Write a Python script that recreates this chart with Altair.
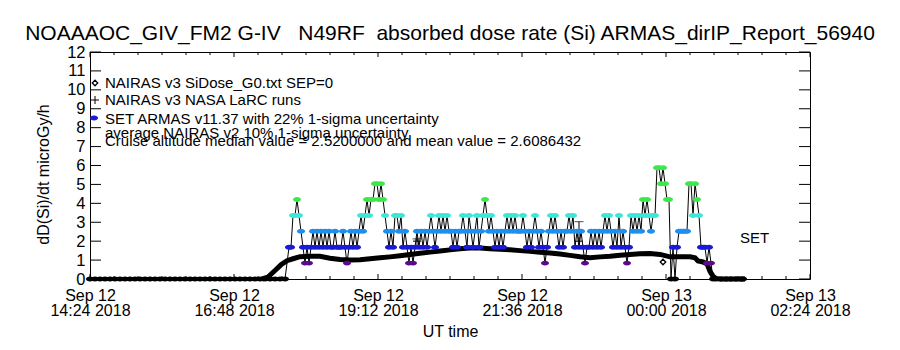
import altair as alt
import pandas as pd

TITLE = "NOAAAOC_GIV_FM2 G-IV\u00a0\u00a0\u00a0N49RF\u00a0\u00a0absorbed dose rate (Si) ARMAS_dirIP_Report_56940"
Y_TITLE = "dD(Si)/dt microGy/h"
X_TITLE = "UT time"

# x axis: minutes after Sep 12 14:24 UT
x_tick_values = [0, 144, 288, 432, 576, 720]
x_tick_dates = ["Sep 12", "Sep 12", "Sep 12", "Sep 12", "Sep 13", "Sep 13"]
x_tick_times = ["14:24 2018", "16:48 2018", "19:12 2018", "21:36 2018", "00:00 2018", "02:24 2018"]
x_minor_values = [24, 48, 72, 96, 120, 168, 192, 216, 240, 264, 312, 336, 360, 384, 408,
                  456, 480, 504, 528, 552, 600, 624, 648, 672, 696]
y_tick_values = [0, 1, 2, 3, 4, 5, 6, 7, 8, 9, 10, 11, 12]

legend_lines = [
    "NAIRAS v3 SiDose_G0.txt SEP=0",
    "NAIRAS v3 NASA LaRC runs",
    "SET ARMAS v11.37 with 22% 1-sigma uncertainty",
    "average NAIRAS v2 10% 1-sigma uncertainty",
    "Cruise altitude median value = 2.5200000 and mean value = 2.6086432",
]
set_label = "SET"

# ARMAS on the ground (zero dose) before and after the flight
ground_before_min = [0, 5, 10, 15, 20, 25, 30, 35, 40, 45, 50, 55, 60, 65, 70, 75, 80, 85, 90, 95,
                     100, 105, 110, 115, 120, 125, 130, 135, 140, 145, 150, 155, 160, 165, 170,
                     175, 180, 185, 190, 195]
ground_after_min = [626, 631, 636, 641, 646, 651, 653]

# ARMAS in flight
armas_min = [
    199, 201, 203, 205, 207, 209, 211, 213, 215, 217, 219, 221, 223, 225, 227, 229, 231, 233, 235, 237,
    239, 241, 243, 245, 247, 249, 251, 253, 255, 257, 259, 261, 263, 265, 267, 269, 271, 273, 275, 277,
    279, 281, 283, 285, 287, 289, 291, 293, 295, 297, 299, 301, 303, 305, 307, 309, 311, 313, 315, 317,
    319, 321, 323, 325, 327, 329, 331, 333, 335, 337, 339, 341, 343, 345, 347, 349, 351, 353, 355, 357,
    359, 361, 363, 365, 367, 369, 371, 373, 375, 377, 379, 381, 383, 385, 387, 389, 391, 393, 395, 397,
    399, 401, 403, 405, 407, 409, 411, 413, 415, 417, 419, 421, 423, 425, 427, 429, 431, 433, 435, 437,
    439, 441, 443, 445, 447, 449, 451, 453, 455, 457, 459, 461, 463, 465, 467, 469, 471, 473, 475, 477,
    479, 481, 483, 485, 487, 489, 491, 493, 495, 497, 499, 501, 503, 505, 507, 509, 511, 513, 515, 517,
    519, 521, 523, 525, 527, 529, 531, 533, 535, 537, 539, 541, 543, 545, 547, 549, 551, 553, 555, 557,
    559, 561, 563, 565, 567, 569, 571, 573, 575, 577, 579, 581, 583, 585, 587, 589, 591, 593, 595, 597,
    599, 601, 603, 605, 607, 609, 611, 613, 615, 617, 619, 621, 623,
]
armas_dose = [
    1.68, 1.68, 3.36, 3.36, 4.2, 3.36, 2.52, 1.68, 0.84, 1.68, 0.84, 1.68, 2.52, 1.68, 2.52, 1.68, 2.52, 1.68, 2.52, 1.68,
    2.52, 1.68, 1.68, 2.52, 1.68, 1.68, 1.68, 2.52, 1.68, 0.84, 1.68, 2.52, 1.68, 2.52, 1.68, 2.52, 3.36, 2.52, 3.36, 4.2,
    3.36, 4.2, 4.2, 5.04, 5.04, 4.2, 5.04, 4.2, 3.36, 2.52, 1.68, 2.52, 1.68, 3.36, 3.36, 2.52, 3.36, 1.68, 2.52, 1.68,
    0.84, 1.68, 0.84, 1.68, 2.52, 1.68, 2.52, 1.68, 2.52, 1.68, 2.52, 3.36, 2.52, 1.68, 2.52, 3.36, 2.52, 3.36, 2.52, 3.36,
    2.52, 2.52, 1.68, 2.52, 1.68, 2.52, 2.52, 3.36, 2.52, 1.68, 3.36, 2.52, 1.68, 2.52, 3.36, 1.68, 2.52, 3.36, 4.2, 3.36,
    2.52, 3.36, 2.52, 1.68, 2.52, 1.68, 2.52, 1.68, 2.52, 3.36, 2.52, 3.36, 2.52, 3.36, 2.52, 2.52, 2.52, 3.36, 2.52, 1.68,
    2.52, 1.68, 2.52, 3.36, 2.52, 1.68, 2.52, 1.68, 0.84, 1.68, 2.52, 3.36, 2.52, 3.36, 2.52, 1.68, 2.52, 1.68, 2.52, 2.52,
    3.36, 2.52, 3.36, 1.68, 2.52, 1.68, 2.52, 1.68, 0.84, 1.68, 1.68, 2.52, 1.68, 2.52, 1.68, 2.52, 1.68, 2.52, 3.36, 2.52,
    3.36, 2.52, 1.68, 2.52, 1.68, 3.36, 1.68, 2.52, 1.68, 0.84, 1.68, 3.36, 2.52, 3.36, 2.52, 3.36, 2.52, 4.2, 3.36, 4.2,
    3.36, 2.52, 3.36, 3.36, 5.88, 5.88, 5.04, 5.88, 5.04, 4.2, 4.2, 0.0, 1.68, 0.0, 1.68, 2.52, 2.52, 2.52, 2.52, 2.52,
    5.04, 5.04, 3.36, 5.04, 4.2, 3.36, 1.68, 1.68, 1.68, 0.84, 1.68, 0.84, 0.0,
]

# NAIRAS v3 SiDose_G0 model curve
nairas_min = [172, 178, 185, 191, 197, 203, 210, 220, 230, 240, 250, 260, 270, 280, 290, 300, 310,
              320, 330, 340, 350, 360, 370, 380, 390, 400, 410, 420, 430, 440, 450, 460, 470, 480,
              490, 500, 510, 520, 530, 540, 550, 560, 570, 580, 590, 600, 605, 608, 613, 617, 620,
              623, 626, 630, 655]
nairas_dose = [0.0, 0.1, 0.45, 0.75, 0.97, 1.07, 1.18, 1.2, 1.2, 1.1, 1.03, 1.0, 1.02, 1.07, 1.12,
               1.17, 1.23, 1.3, 1.36, 1.42, 1.48, 1.54, 1.6, 1.64, 1.64, 1.6, 1.57, 1.54, 1.5, 1.46,
               1.42, 1.37, 1.32, 1.25, 1.18, 1.13, 1.17, 1.2, 1.26, 1.3, 1.33, 1.35, 1.3, 1.17, 1.17,
               1.17, 1.12, 0.95, 0.9, 0.8, 0.4, 0.15, 0.03, 0.0, 0.0]
nairas_extra_min = [573]
nairas_extra_dose = [0.9]

# NAIRAS v3 NASA LaRC runs
larc_min = [327, 489]
larc_dose = [2.0, 2.0]
larc_high = [2.12, 3.03]

level_edges = [0.42, 1.26, 2.1, 2.94, 3.78]
level_colors = ["#000000", "#5a0a8c", "#1a1ad8", "#1e8ff0", "#3ee6d8", "#3ce84c"]

ELLIPSE = "M-1,0A1,0.62,0,1,0,1,0A1,0.62,0,1,0,-1,0Z"
PLUS = "M-1,0L1,0M0,-1L0,1"

W, H = 720, 227
FONT = "Liberation Sans"

xscale = alt.Scale(domain=[0, 720], nice=False, zero=False)
yscale = alt.Scale(domain=[0, 12], nice=False, zero=False)

label_expr = ("[" + ",".join(f"['{d}','{t}']" for d, t in zip(x_tick_dates, x_tick_times))
              + "][indexof([" + ",".join(str(v) for v in x_tick_values) + "], datum.value)]")

armas = pd.concat([
    pd.DataFrame({"m": ground_before_min, "v": [0.0] * len(ground_before_min)}),
    pd.DataFrame({"m": armas_min, "v": armas_dose}),
    pd.DataFrame({"m": ground_after_min, "v": [0.0] * len(ground_after_min)}),
], ignore_index=True)
nairas = pd.DataFrame({"m": nairas_min, "v": nairas_dose})
nairas_extra = pd.DataFrame({"m": nairas_extra_min, "v": nairas_extra_dose})
larc = pd.DataFrame({"m": larc_min, "v": larc_dose, "hi": larc_high})

x_axis = alt.Axis(values=x_tick_values, labelExpr=label_expr, ticks=False, domain=False, grid=False,
                  labelFlush=False, labelOverlap=False, labelFontSize=16, labelLineHeight=15,
                  labelPadding=8, labelColor="black", labelBaseline="top", labelFont=FONT,
                  title=X_TITLE, titleFontSize=16, titleFontWeight="normal", titleColor="black",
                  titleFont=FONT, titleY=52, titleBaseline="middle")
y_axis = alt.Axis(values=y_tick_values, ticks=False, domain=False, grid=False, labelFontSize=16.5,
                  labelPadding=5, labelColor="black", labelFont=FONT, title=Y_TITLE, titleFontSize=16,
                  titleFontWeight="normal", titleColor="black", titleFont=FONT, titleX=-47, titleY=122,
                  titleBaseline="middle", titleAlign="center", titleAngle=270)

X = alt.X("m:Q", scale=xscale, axis=x_axis)
Y = alt.Y("v:Q", scale=yscale, axis=y_axis)

nairas_line = alt.Chart(nairas).mark_line(color="black", strokeWidth=5).encode(x=X, y=Y)
nairas_pt = alt.Chart(nairas_extra).mark_point(shape="diamond", filled=False, color="black",
                                               strokeWidth=1.3, size=30, opacity=1).encode(x=X, y=Y)

larc_bar = alt.Chart(larc).mark_rule(color="black", strokeWidth=1).encode(x=X, y=Y, y2="hi:Q")
larc_cap = alt.Chart(larc).mark_tick(color="black", orient="horizontal", size=9, thickness=1).encode(
    x=X, y=alt.Y("hi:Q", scale=yscale, axis=y_axis))
larc_plus = alt.Chart(larc).mark_point(shape=PLUS, filled=False, color="black", strokeWidth=1,
                                       size=64, opacity=1).encode(x=X, y=Y)

armas_line = alt.Chart(armas).mark_line(color="black", strokeWidth=1).encode(x=X, y=Y)
armas_pts = alt.Chart(armas).mark_point(shape=ELLIPSE, filled=True, size=64, opacity=1,
                                        strokeWidth=0).encode(
    x=X, y=Y,
    color=alt.Color("v:Q", scale=alt.Scale(type="threshold", domain=level_edges, range=level_colors),
                    legend=None),
)

# box ticks (IDL style, inward)
xmaj = pd.DataFrame({"m": x_tick_values})
xmin = pd.DataFrame({"m": x_minor_values})
yt = pd.DataFrame({"v": y_tick_values})
tick_layers = [
    alt.Chart(xmaj).mark_rule(color="black").encode(x=X, y=alt.value(H), y2=alt.value(H - 5)),
    alt.Chart(xmaj).mark_rule(color="black").encode(x=X, y=alt.value(0), y2=alt.value(5)),
    alt.Chart(xmin).mark_rule(color="black").encode(x=X, y=alt.value(H), y2=alt.value(H - 3)),
    alt.Chart(xmin).mark_rule(color="black").encode(x=X, y=alt.value(0), y2=alt.value(3)),
    alt.Chart(yt).mark_rule(color="black").encode(y=Y, x=alt.value(0), x2=alt.value(11)),
    alt.Chart(yt).mark_rule(color="black").encode(y=Y, x=alt.value(W), x2=alt.value(W - 11)),
]

one = pd.DataFrame({"k": [0]})
legend_y = [31, 48, 66.5, 81, 89]
legend_texts = [
    alt.Chart(one).mark_text(align="left", baseline="middle", fontSize=15, font=FONT, color="black").encode(
        x=alt.value(15), y=alt.value(yy), text=alt.value(t))
    for t, yy in zip(legend_lines, legend_y)
]
leg_diamond = alt.Chart(one).mark_point(shape="diamond", filled=False, color="black", strokeWidth=1.3,
                                        size=30, opacity=1).encode(x=alt.value(5), y=alt.value(31))
leg_plus = alt.Chart(one).mark_point(shape=PLUS, filled=False, color="black", strokeWidth=1,
                                     size=64, opacity=1).encode(x=alt.value(5), y=alt.value(48))
leg_dot = alt.Chart(one).mark_point(shape=ELLIPSE, filled=True, color="#1a1ad8", size=64, opacity=1,
                                    strokeWidth=0).encode(x=alt.value(4), y=alt.value(66))
set_text = alt.Chart(one).mark_text(align="left", baseline="middle", fontSize=15, font=FONT,
                                    color="black").encode(x=alt.value(650), y=alt.value(185.5),
                                                          text=alt.value(set_label))

chart = alt.layer(
    nairas_line, nairas_pt, larc_bar, larc_cap, larc_plus, armas_line, armas_pts,
    *tick_layers, *legend_texts, leg_diamond, leg_plus, leg_dot, set_text,
).properties(
    width=W, height=H,
    title=alt.TitleParams(TITLE, fontSize=21, fontWeight="normal", font=FONT, color="black",
                          anchor="middle", baseline="alphabetic", offset=5.5, dy=22),
    autosize=alt.AutoSizeParams(type="none"),
    padding={"left": 90, "top": 52, "right": 90, "bottom": 71},
).configure(background="white", font=FONT).configure_view(stroke="black", strokeWidth=1)

chart.save("out.html", embed_options={"renderer": "svg", "actions": False})
